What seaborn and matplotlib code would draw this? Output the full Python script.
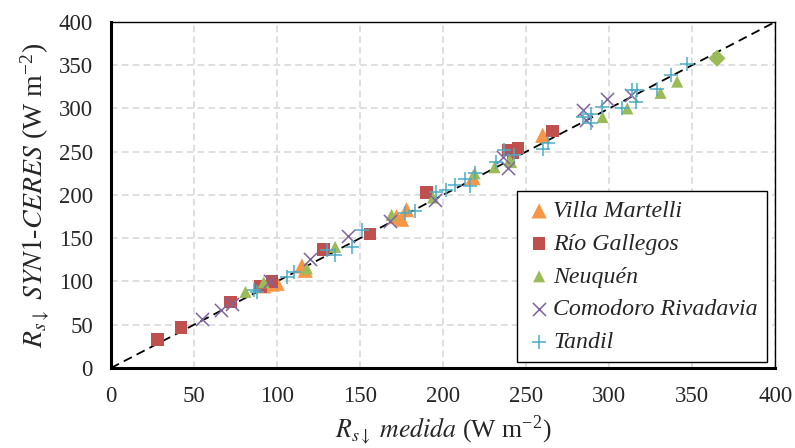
import matplotlib
matplotlib.use("Agg")
import matplotlib.pyplot as plt
import numpy as np
import pandas as pd
import seaborn as sns

vm_x = [92, 97, 100, 115, 117, 172, 175, 178, 218, 260]
vm_y = [95, 97, 98, 118, 113, 175, 172, 183, 220, 269]

rg_x = [28, 42, 72, 90, 97, 128, 156, 190, 239, 242, 245, 266]
rg_y = [33, 47, 76, 94, 100, 137, 155, 203, 252, 249, 254, 274]

nq_x = [81, 92, 118, 135, 169, 194, 219, 231, 240, 241, 296, 311, 331, 341]
nq_y = [88, 99, 115, 140, 177, 197, 225, 232, 240, 238, 290, 300, 318, 331]
nq_extra_x = [365]
nq_extra_y = [358]

cr_x = [55, 66, 73, 96, 120, 143, 168, 195, 236, 239, 284, 286, 299, 313]
cr_y = [57, 67, 74, 100, 126, 152, 170, 194, 244, 231, 298, 287, 311, 316]

td_x = [86, 88, 106, 110, 130, 135, 145, 151, 177, 183, 196, 202, 207, 213,
        216, 219, 232, 237, 243, 260, 263, 284, 289, 289, 296, 308, 314, 316,
        317, 329, 337, 347]
td_y = [90, 88, 105, 111, 136, 131, 140, 160, 179, 181, 204, 206, 212, 218,
        210, 225, 238, 252, 246, 253, 260, 290, 294, 283, 302, 300, 321, 307,
        321, 323, 339, 351]

stations = ["Villa Martelli", "Río Gallegos", "Neuquén", "Comodoro Rivadavia", "Tandil"]
colors = ["#F79646", "#C0504D", "#9BBB59", "#8064A2", "#4BACC6"]
markers = ["^", "s", "^", "x", "+"]
sizes = [120, 80, 75, 90, 100]
xs = [vm_x, rg_x, nq_x, cr_x, td_x]
ys = [vm_y, rg_y, nq_y, cr_y, td_y]

sns.set_style("white")
plt.rcParams['font.family'] = ['Liberation Serif', 'DejaVu Serif']
plt.rcParams['mathtext.fontset'] = 'stix'

fig = plt.figure(figsize=(7.95, 4.48), dpi=100)
ax = fig.add_axes([0.1396, 0.1786, 0.8354, 0.7724])

ax.grid(True, color='#d9d9d9', linestyle='--', linewidth=1.2, dashes=(4, 2.5))
ax.set_axisbelow(True)

for name, c, m, s, x, y in zip(stations, colors, markers, sizes, xs, ys):
    df = pd.DataFrame({"x": x, "y": y})
    if m in ("x", "+"):
        sns.scatterplot(data=df, x="x", y="y", ax=ax, marker=m, color=c, s=s,
                        linewidth=1.1, label=name, zorder=3)
    else:
        sns.scatterplot(data=df, x="x", y="y", ax=ax, marker=m, color=c, s=s,
                        edgecolor='none', label=name, zorder=3)

sns.scatterplot(x=nq_extra_x, y=nq_extra_y, ax=ax, marker="D", color=colors[2],
                s=75, edgecolor='none', zorder=3)

line = np.array([0, 400])
sns.lineplot(x=line, y=line, ax=ax, color='black', linestyle='--', linewidth=1.3,
             zorder=2)
ax.lines[-1].set_dashes((5, 3))

ax.set_xlim(0, 400)
ax.set_ylim(0, 400)
ax.set_xticks(np.arange(0, 401, 50))
ax.set_yticks(np.arange(0, 401, 50))
ax.tick_params(length=0, labelsize=16.5)
ax.tick_params(axis='y', pad=13)
ax.tick_params(axis='x', pad=13)

for side in ['left', 'bottom']:
    ax.spines[side].set_linewidth(2.2)
    ax.spines[side].set_color('black')
for side in ['top', 'right']:
    ax.spines[side].set_linewidth(1.0)
    ax.spines[side].set_color('black')

ax.set_xlabel(r'$R_{s\downarrow}\ \mathit{medida}$ (W m$^{\mathregular{-2}}$)', fontsize=18.5, labelpad=5)
ax.set_ylabel(r'$R_{s\downarrow}\ \mathit{SYN1}$' + '-' + r'$\mathit{CERES}$ (W m$^{\mathregular{-2}}$)',
              fontsize=20, labelpad=5)

leg = ax.legend(loc='lower right', bbox_to_anchor=(0.988, 0.017), frameon=True,
                fancybox=False, edgecolor='black', framealpha=1,
                prop={'family': 'Liberation Serif', 'style': 'italic', 'size': 17.2},
                handletextpad=0.05, labelspacing=0.46, borderpad=0.38, handlelength=1.1,
                borderaxespad=0)
leg.get_frame().set_linewidth(1.0)

fig.savefig("out.png", dpi=100)
